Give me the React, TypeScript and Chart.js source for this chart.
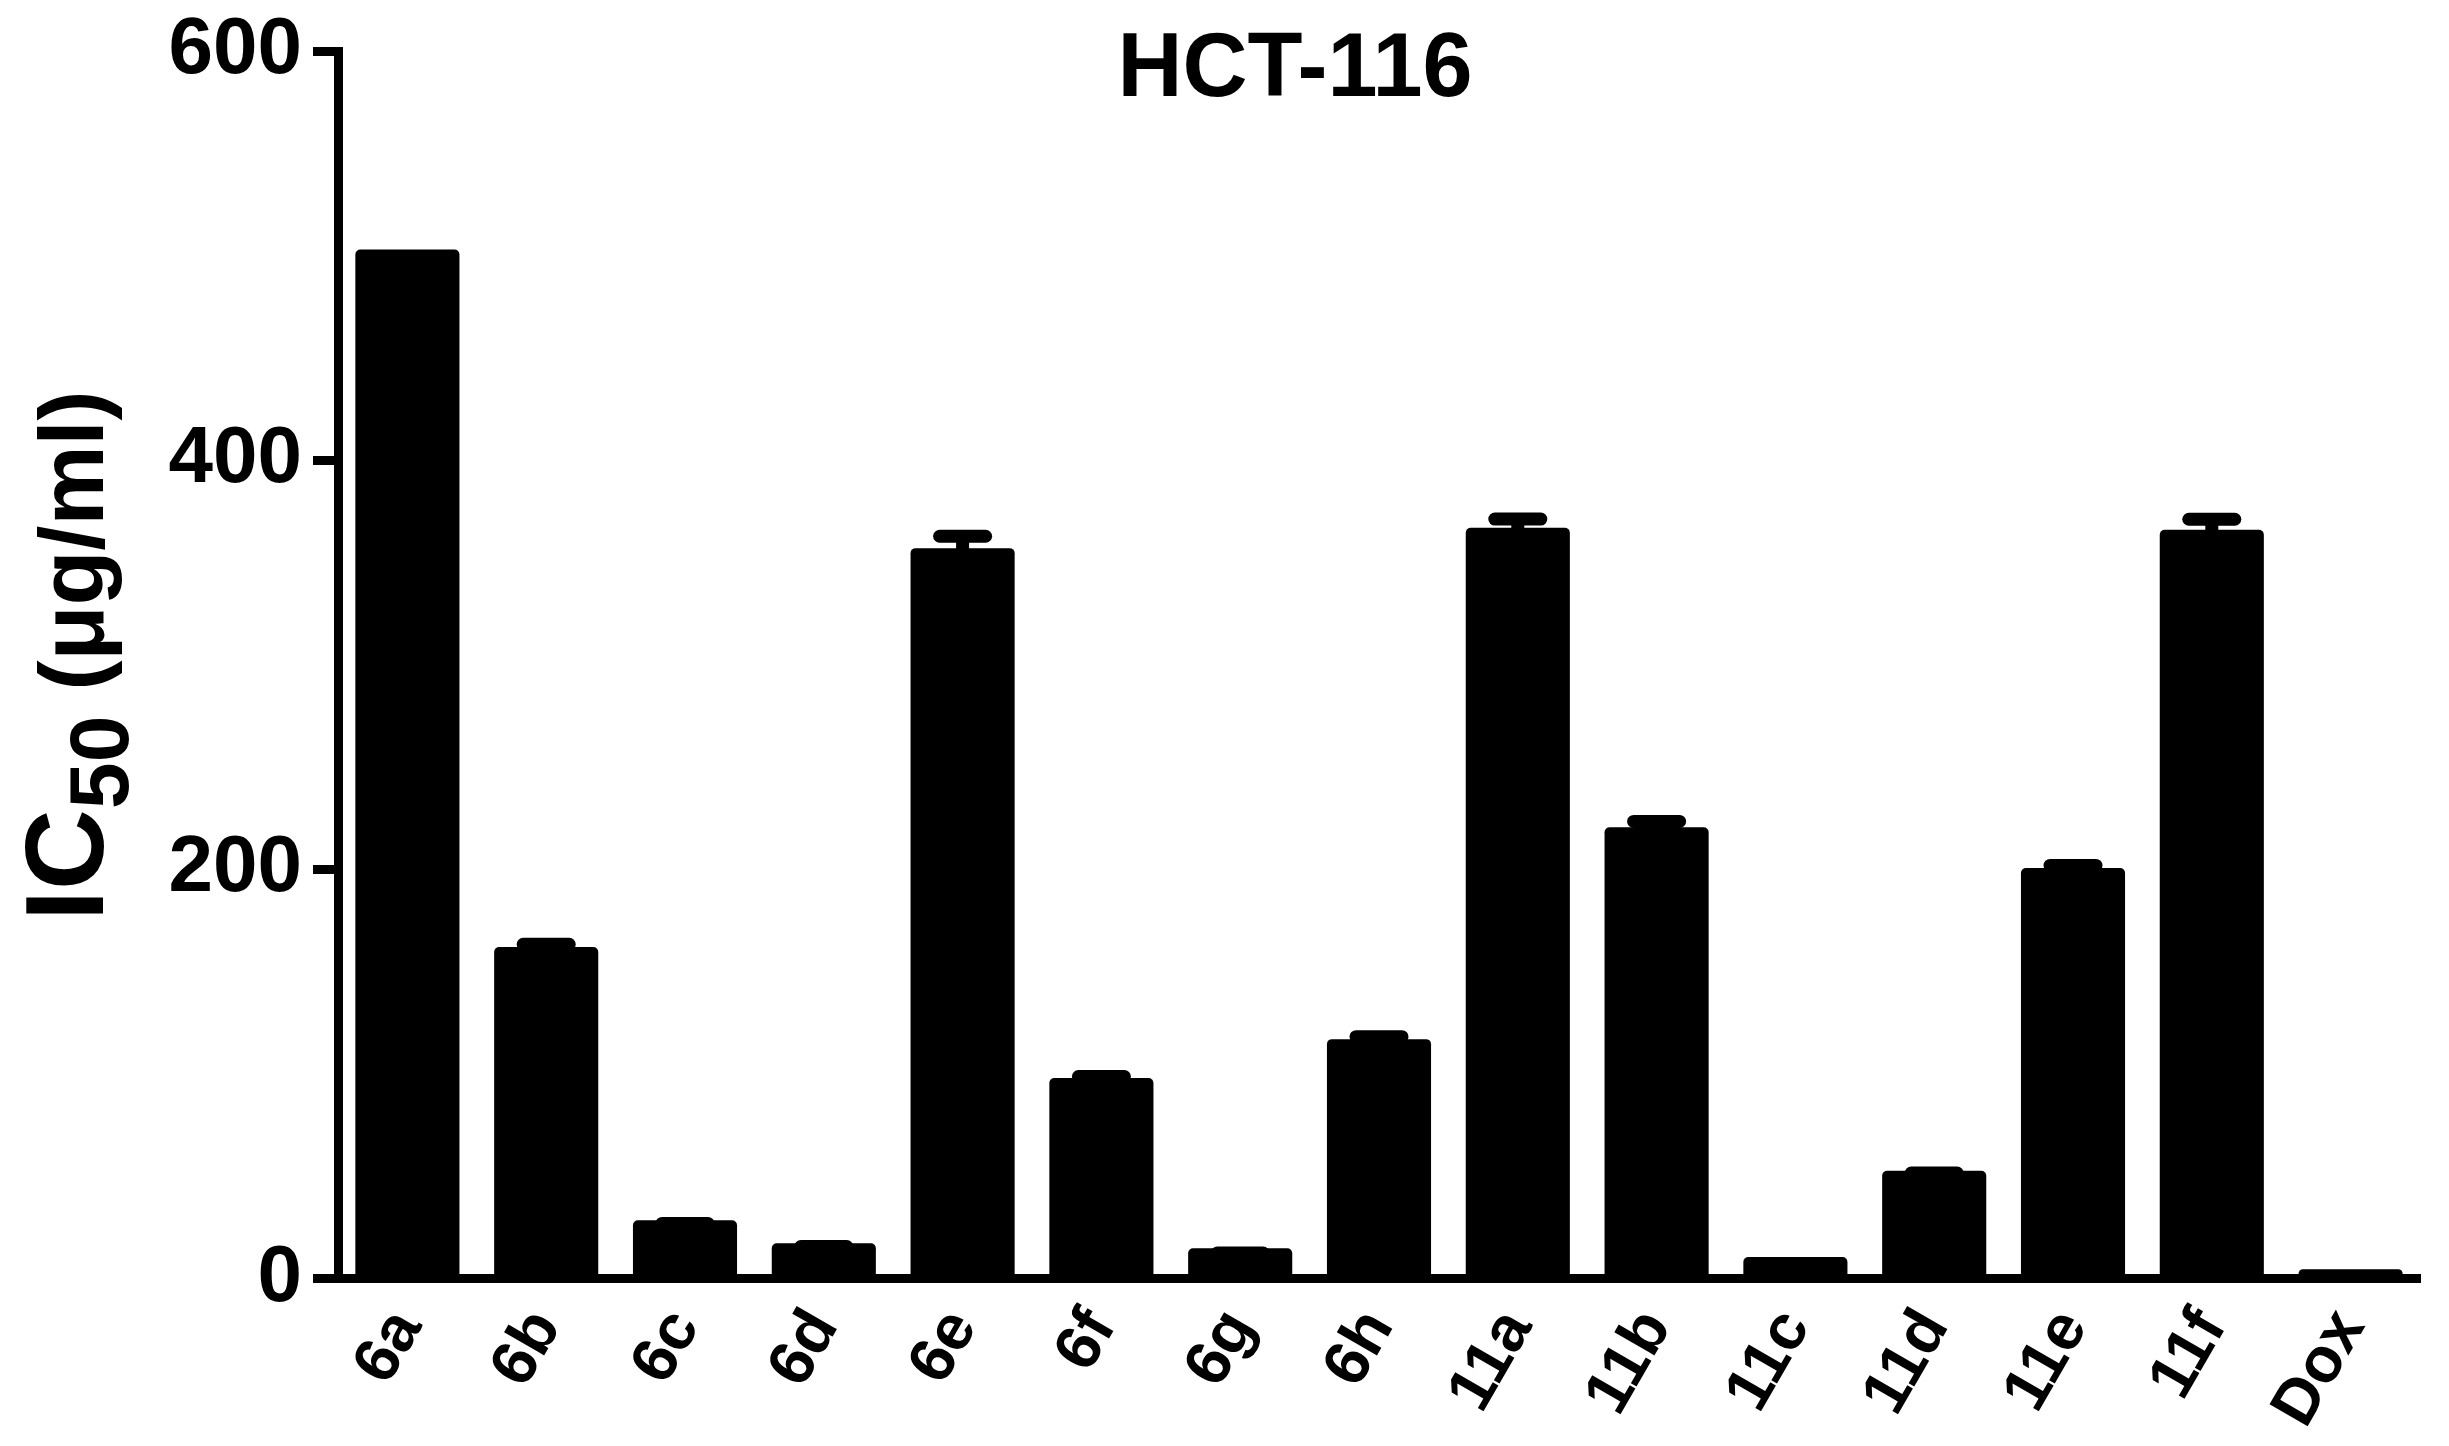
import React, { useEffect, useRef } from "react";
import { Chart, registerables } from "chart.js";

Chart.register(...registerables);

// ---- data ----
const categories = ["6a", "6b", "6c", "6d", "6e", "6f", "6g", "6h", "11a", "11b", "11c", "11d", "11e", "11f", "Dox"];
const ic50Values = [503, 162, 28.5, 17.2, 357, 98, 14.8, 117, 367, 220.6, 10.5, 52.7, 200.6, 366, 4.5];
const ic50Errors = [0, 4.5, 1.6, 1.6, 9, 3.9, 0.8, 4.4, 7.4, 6, 0, 2, 4.5, 8.3, 0];
const yTicks = [0, 200, 400, 600];
const chartTitle = "HCT-116";
const yTitleMain = "IC";
const yTitleSub = "50";
const yTitleUnit = " (μg/ml)";

const FONT = '"Liberation Sans", Arial, sans-serif';

const errorBarPlugin = {
  id: "errorBars",
  afterDatasetsDraw(chart: any) {
    const meta = chart.getDatasetMeta(0);
    const yScale = chart.scales.y;
    const ctx = chart.ctx;
    ctx.save();
    ctx.strokeStyle = "#000";
    meta.data.forEach((bar: any, i: number) => {
      const e = ic50Errors[i];
      if (!e) return;
      const top = yScale.getPixelForValue(ic50Values[i] + e);
      const cy = top + 6.5;
      ctx.lineWidth = 13;
      ctx.lineCap = "butt";
      ctx.beginPath();
      ctx.moveTo(bar.x, cy);
      ctx.lineTo(bar.x, bar.y + 2);
      ctx.stroke();
      ctx.lineCap = "round";
      ctx.beginPath();
      ctx.moveTo(bar.x - 23, cy);
      ctx.lineTo(bar.x + 23, cy);
      ctx.stroke();
    });
    ctx.restore();
  },
};

const textPlugin = {
  id: "customText",
  afterDraw(chart: any) {
    const ctx = chart.ctx;
    ctx.save();
    ctx.fillStyle = "#000";
    // chart title
    ctx.font = `bold 90px ${FONT}`;
    ctx.textAlign = "center";
    ctx.textBaseline = "alphabetic";
    ctx.fillText(chartTitle, 1295, 96);
    // y axis title with subscript
    ctx.translate(103, 921);
    ctx.rotate(-Math.PI / 2);
    ctx.textAlign = "left";
    let x = 0;
    ctx.font = `bold 112px ${FONT}`;
    ctx.fillText(yTitleMain, x, 0);
    x += ctx.measureText(yTitleMain).width;
    ctx.font = `bold 84px ${FONT}`;
    ctx.fillText(yTitleSub, x, 25);
    x += ctx.measureText(yTitleSub).width;
    ctx.font = `bold 90px ${FONT}`;
    ctx.fillText(yTitleUnit, x, 0);
    ctx.restore();
  },
};

export default function App() {
  const ref = useRef<HTMLCanvasElement | null>(null);

  useEffect(() => {
    if (!ref.current) return;
    const chart = new Chart(ref.current, {
      type: "bar",
      data: {
        labels: categories,
        datasets: [
          {
            data: ic50Values,
            backgroundColor: "#000",
            borderWidth: 0,
            borderRadius: 5,
            borderSkipped: "start",
            categoryPercentage: 1,
            barPercentage: 0.75,
          } as any,
        ],
      },
      options: {
        animation: false,
        responsive: false,
        devicePixelRatio: 1,
        layout: { padding: { left: 0, right: 29, top: 51, bottom: 0 } },
        plugins: {
          legend: { display: false },
          tooltip: { enabled: false },
          title: { display: false },
        },
        scales: {
          x: {
            type: "category",
            grid: { display: true, drawOnChartArea: false, drawTicks: false },
            border: { display: true, color: "#000", width: 9 },
            ticks: {
              color: "#000",
              font: { family: FONT, size: 64, weight: "bold", lineHeight: 1 },
              minRotation: 60,
              maxRotation: 60,
              padding: 22,
              autoSkip: false,
            },
            afterFit: (s: any) => {
              s.height = 167.5;
            },
          },
          y: {
            min: 0,
            max: 600,
            afterBuildTicks: (s: any) => {
              s.ticks = yTicks.map((v) => ({ value: v }));
            },
            grid: {
              drawOnChartArea: false,
              drawTicks: true,
              tickLength: 25,
              tickWidth: 9,
              tickColor: "#000",
            },
            border: { display: true, color: "#000", width: 9 },
            ticks: {
              color: "#000",
              font: { family: FONT, size: 80, weight: "bold", lineHeight: 1 },
              padding: 11,
            },
            afterFit: (s: any) => {
              s.width = 338;
              s.paddingTop = 0;
            },
          },
        },
      } as any,
      plugins: [errorBarPlugin, textPlugin],
    });
    return () => chart.destroy();
  }, []);

  return (
    <div style={{ position: "absolute", left: 0, top: 0, width: 2449, height: 1446, background: "#fff" }}>
      <canvas ref={ref} width={2449} height={1446} style={{ display: "block", width: 2449, height: 1446 }} />
    </div>
  );
}
